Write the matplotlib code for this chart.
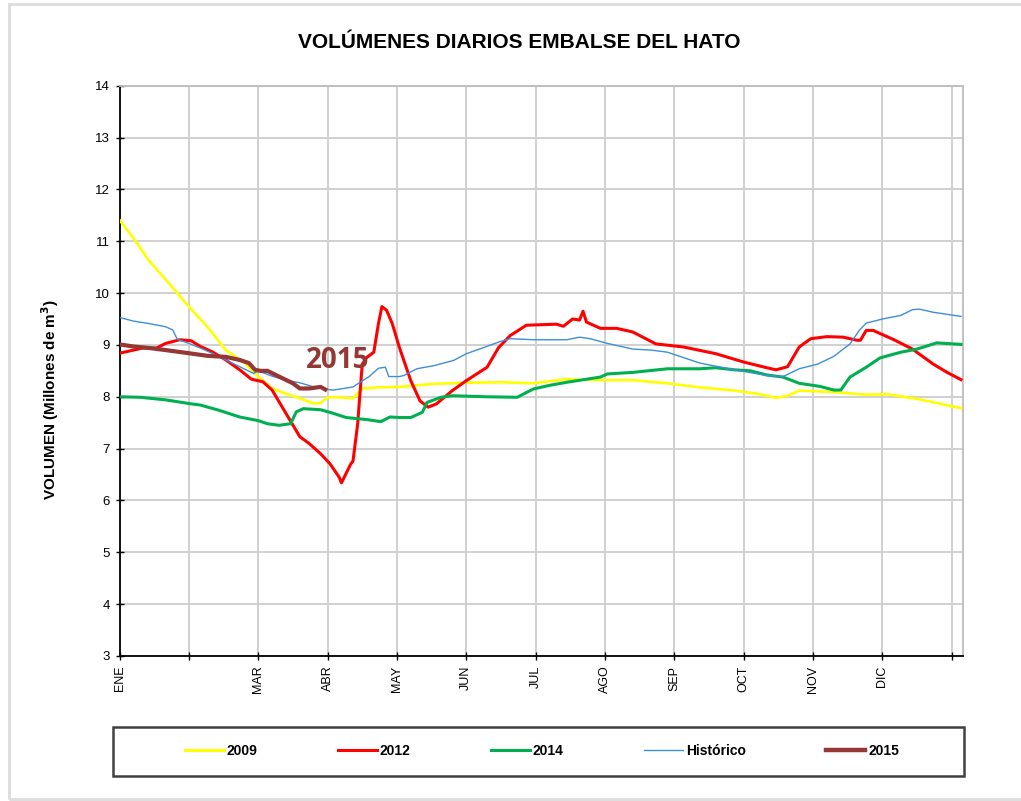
import matplotlib
matplotlib.use("Agg")
import matplotlib.pyplot as plt
from matplotlib.patches import Rectangle
from matplotlib.lines import Line2D

# ---------------- data (day of year, volume in millions of m3) ----------------
days_2009 = [0, 6, 13, 20, 30, 38, 46, 54, 60, 66, 72, 78, 84, 87, 90, 95, 101, 105, 111, 121,
             136, 150, 165, 179, 193, 208, 222, 237, 251, 266, 277, 284, 289, 294, 309, 323,
             332, 345, 364]
vol_2009 = [11.41, 11.06, 10.61, 10.26, 9.74, 9.35, 8.90, 8.66, 8.39, 8.16, 8.06, 7.97, 7.87,
            7.88, 7.99, 7.99, 7.97, 8.16, 8.18, 8.19, 8.25, 8.27, 8.28, 8.26, 8.34, 8.32, 8.32,
            8.26, 8.18, 8.12, 8.05, 7.98, 8.02, 8.12, 8.09, 8.04, 8.05, 7.96, 7.78]

days_2012 = [0, 3, 6, 10, 16, 20, 26, 31, 35, 40, 46, 52, 57, 62, 66, 72, 78, 82, 87, 91, 95,
             96, 100, 101, 103, 105, 107, 110, 112, 113.5, 115.5, 118, 121, 126, 130, 133.5,
             137, 144, 150, 159, 164, 169, 176, 189, 192, 196, 199, 200.5, 202, 208, 215, 222,
             232, 244, 258, 270, 280, 284, 289, 294, 299, 306, 313, 319, 320.5, 323, 326, 335,
             343, 352, 358, 364]
vol_2012 = [8.84, 8.87, 8.90, 8.94, 8.94, 9.03, 9.10, 9.08, 8.97, 8.87, 8.71, 8.52, 8.34, 8.29,
            8.13, 7.68, 7.23, 7.10, 6.90, 6.71, 6.45, 6.34, 6.70, 6.76, 7.47, 8.63, 8.76, 8.86,
            9.41, 9.74, 9.67, 9.41, 8.96, 8.31, 7.92, 7.80, 7.86, 8.12, 8.31, 8.57, 8.95, 9.18,
            9.38, 9.40, 9.36, 9.50, 9.48, 9.65, 9.44, 9.32, 9.32, 9.25, 9.02, 8.96, 8.83, 8.67,
            8.56, 8.52, 8.58, 8.96, 9.12, 9.16, 9.15, 9.09, 9.09, 9.28, 9.28, 9.10, 8.92, 8.63,
            8.47, 8.33]

days_2014 = [0, 9, 20, 30, 35, 43, 52, 60, 64, 69, 74, 76.5, 79.5, 87, 92.5, 98, 107, 113, 117,
             121, 126, 131, 133, 139, 144, 159, 172, 179, 186, 193.5, 208, 211, 222, 237, 251,
             258, 266, 273, 280, 287, 294, 303, 309, 312, 316, 323, 329, 338, 345, 353.5, 364]
vol_2014 = [8.00, 7.99, 7.94, 7.87, 7.84, 7.74, 7.61, 7.54, 7.48, 7.45, 7.48, 7.71, 7.77, 7.75,
            7.68, 7.60, 7.56, 7.52, 7.61, 7.60, 7.60, 7.70, 7.89, 7.99, 8.02, 8.00, 7.99, 8.15,
            8.22, 8.28, 8.38, 8.44, 8.47, 8.54, 8.54, 8.56, 8.52, 8.50, 8.42, 8.38, 8.26, 8.20,
            8.13, 8.13, 8.38, 8.57, 8.75, 8.86, 8.92, 9.04, 9.01]

days_hist = [0, 6, 13, 20, 23, 25, 30, 35, 40.5, 46, 52, 58, 60, 66.5, 72, 78, 84, 90, 92.5, 97,
             101, 105.5, 108, 112, 115, 116.5, 121, 123, 128.6, 136, 144.5, 150, 165, 169, 179,
             193.5, 199, 203.6, 211, 222, 230, 237, 251, 266, 280, 287, 294, 302, 309, 316, 320,
             323, 330, 338, 343, 346, 352, 358, 364]
vol_hist = [9.53, 9.46, 9.41, 9.35, 9.29, 9.11, 9.03, 8.94, 8.83, 8.71, 8.58, 8.45, 8.50, 8.39,
            8.32, 8.27, 8.19, 8.14, 8.13, 8.16, 8.19, 8.32, 8.39, 8.55, 8.57, 8.39, 8.39, 8.41,
            8.54, 8.60, 8.70, 8.83, 9.07, 9.12, 9.10, 9.10, 9.15, 9.12, 9.03, 8.92, 8.90, 8.86,
            8.65, 8.52, 8.41, 8.39, 8.54, 8.63, 8.78, 9.02, 9.28, 9.42, 9.50, 9.57, 9.68, 9.69,
            9.63, 9.59, 9.55]

days_2015 = [0, 6, 13, 20, 30, 38, 46, 52, 56, 58.6, 61, 64, 69, 75, 78, 82, 87, 89]
vol_2015 = [9.01, 8.97, 8.94, 8.90, 8.84, 8.79, 8.77, 8.71, 8.65, 8.52, 8.50, 8.50, 8.39, 8.26,
            8.16, 8.16, 8.19, 8.14]

month_ticks = [0, 30, 60, 90, 120, 150, 180, 210, 240, 270, 300, 330, 360]
month_labels = ["ENE", "", "MAR", "ABR", "MAY", "JUN", "JUL", "AGO", "SEP", "OCT", "NOV", "DIC", ""]

# ---------------- figure ----------------
plt.rcParams['font.family'] = ['Liberation Sans', 'DejaVu Sans']
W, H = 1021, 801
fig = plt.figure(figsize=(W / 100, H / 100), dpi=100)

# outer light border
fig.patches.append(Rectangle((9 / W, 2 / H), 1.1, (797 - 2) / H, transform=fig.transFigure,
                             fill=False, edgecolor='#DEDEDE', lw=2.2, zorder=0))

ax = fig.add_axes([119.5 / W, 1 - 656 / H, (963.3 - 119.5) / W, (656 - 85.7) / H])

ax.plot(days_2009, vol_2009, color='#FFFF00', lw=1.9, label='2009', zorder=3)
ax.plot(days_2012, vol_2012, color='#FF0000', lw=2.2, label='2012', zorder=4)
ax.plot(days_2014, vol_2014, color='#00B050', lw=2.2, label='2014', zorder=5)
ax.plot(days_hist, vol_hist, color='#3D8FD8', lw=1.0, label='Histórico', zorder=6)
ax.plot(days_2015, vol_2015, color='#953735', lw=3.0, label='2015', zorder=7)

ax.set_xlim(0, 365)
ax.set_ylim(3, 14)
ax.set_xticks(month_ticks)
ax.set_xticklabels(month_labels, rotation=90, fontsize=9)
ax.set_yticks(range(3, 15))
ax.tick_params(axis='y', labelsize=9.5, direction='inout', length=6, width=1, pad=4)
ax.tick_params(axis='x', direction='inout', length=6, width=1, pad=4)
ax.grid(True, color='#CDCDCD', lw=1.3)
ax.set_axisbelow(True)
for s in ['top', 'right']:
    ax.spines[s].set_color('#BDBDBD')
    ax.spines[s].set_linewidth(1.3)
for s in ['left', 'bottom']:
    ax.spines[s].set_color('black')
    ax.spines[s].set_linewidth(1.3)

ax.text(94.5, 8.70, '2015', color='#953735', fontsize=20, fontweight='bold',
        family=['Open Sans', 'DejaVu Sans'], ha='center', va='center', zorder=8)

fig.text(519 / W, 1 - 43 / H, 'VOLÚMENES DIARIOS EMBALSE DEL HATO', ha='center', va='center',
         fontsize=15, fontweight='bold')
fig.text(50 / W, 1 - 400 / H, 'VOLUMEN (Millones de m$^\\mathbf{3}$)', rotation=90, ha='center',
         va='center', fontsize=11, fontweight='bold')

# legend box
fig.patches.append(Rectangle((113 / W, 1 - 776 / H), (964 - 113) / W, (776 - 727) / H,
                             transform=fig.transFigure, fill=False, edgecolor='#404040', lw=1.8,
                             zorder=1))
handles = [
    Line2D([], [], color='#FFFF00', lw=2.2),
    Line2D([], [], color='#FF0000', lw=2.2),
    Line2D([], [], color='#00B050', lw=2.2),
    Line2D([], [], color='#3D8FD8', lw=1.0),
    Line2D([], [], color='#953735', lw=3.2),
]
labels = ['2009', '2012', '2014', 'Histórico', '2015']
fig.legend(handles, labels, loc='center', bbox_to_anchor=(542 / W, 1 - 751 / H), ncol=5,
           frameon=False, handlelength=2.8, handletextpad=0.2, columnspacing=5.8,
           prop={'family': ['Liberation Sans Narrow', 'Liberation Sans'], 'weight': 'bold',
                 'size': 10})

fig.savefig('out.png', dpi=100)
